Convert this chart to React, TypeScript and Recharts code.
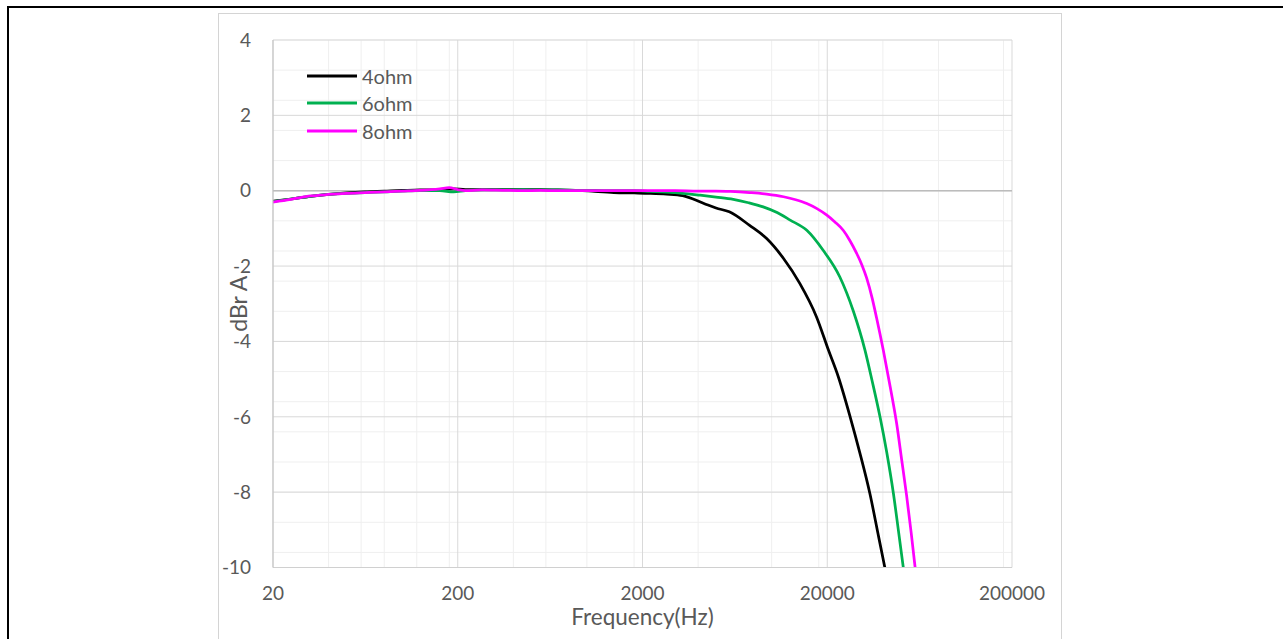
import {
  CartesianGrid,
  Label,
  Legend,
  Line,
  LineChart,
  ReferenceLine,
  XAxis,
  YAxis,
} from "recharts";

// 4 ohm load
const freq4ohm = [
  20, 25, 32, 40, 50, 63, 80, 100, 125, 160, 190, 220, 280, 350, 450, 560, 700, 900, 1100, 1400,
  1800, 2200, 2700, 3300, 4300, 5000, 5900, 7600, 9400, 11600, 14200, 17500, 20300, 23000, 26600,
  30000, 34000, 38000, 41000,
];
const db4ohm = [
  -0.28, -0.22, -0.15, -0.1, -0.06, -0.03, -0.01, 0.01, 0.02, 0.03, 0.05, 0.03, 0.03, 0.03, 0.03,
  0.03, 0.02, 0.01, -0.02, -0.05, -0.06, -0.07, -0.09, -0.13, -0.34, -0.46, -0.56, -0.92, -1.27,
  -1.8, -2.46, -3.35, -4.23, -4.95, -6.0, -6.95, -8.03, -9.2, -10.0,
];

// 6 ohm load
const freq6ohm = [
  20, 25, 32, 40, 50, 63, 80, 100, 125, 160, 190, 220, 280, 350, 450, 560, 700, 900, 1100, 1400,
  1800, 2200, 2700, 3300, 4100, 5000, 6200, 7500, 9000, 10700, 12600, 15500, 19000, 23400, 27700,
  32000, 35000, 38600, 42000, 45600, 48500, 51600,
];
const db6ohm = [
  -0.29, -0.22, -0.15, -0.1, -0.07, -0.05, -0.03, -0.01, 0, 0, -0.03, 0, 0.02, 0.02, 0.03, 0.02,
  0.02, 0.01, 0.01, 0, 0, -0.02, -0.04, -0.07, -0.12, -0.17, -0.23, -0.32, -0.43, -0.58, -0.78,
  -1.05, -1.58, -2.29, -3.2, -4.23, -5.05, -6.0, -6.95, -8.03, -9.0, -10.0,
];

// 8 ohm load
const freq8ohm = [
  20, 25, 32, 40, 50, 63, 80, 100, 125, 160, 180, 200, 220, 270, 350, 450, 560, 700, 900, 1100,
  1400, 1800, 2200, 3000, 4000, 5000, 6000, 7600, 9400, 11600, 13500, 15500, 17500, 19900, 22000,
  24400, 26500, 28900, 30800, 32700, 35000, 37000, 40200, 44000, 47500, 50500, 53800, 57000, 59800,
];
const db8ohm = [
  -0.3, -0.23, -0.14, -0.1, -0.07, -0.05, -0.03, -0.01, 0.01, 0.05, 0.08, 0.03, 0, 0.02, 0.01, 0,
  0.01, 0, 0, 0, 0, 0, 0, 0, -0.01, -0.01, -0.02, -0.05, -0.09, -0.16, -0.24, -0.34, -0.47, -0.65,
  -0.83, -1.05, -1.32, -1.67, -1.97, -2.32, -2.85, -3.38, -4.23, -5.25, -6.18, -7.12, -8.1, -9.1,
  -10.0,
];

const X_TICKS = [20, 200, 2000, 20000, 200000];
const Y_TICKS = [-10, -8, -6, -4, -2, 0, 2, 4];
const DECADES = [20, 200, 2000, 20000];
const MINOR_STEPS = [2, 3, 4, 5, 6, 7, 8, 9];
const X_MINOR = DECADES.flatMap((d) => MINOR_STEPS.map((k) => d * k));
const Y_MINOR = Array.from({ length: 36 }, (_, i) => Math.round((-10 + i * 0.4) * 10) / 10);

const toPoints = (freq: number[], db: number[]) => freq.map((f, i) => ({ freq: f, db: db[i] }));

const FONT = "Lato, 'Open Sans', sans-serif";
const TEXT = "#595959";

function renderLegend(props: any) {
  const { payload } = props;
  return (
    <div style={{ display: "flex", flexDirection: "column" }}>
      {(payload || []).map((p: any) => (
        <div key={p.value} style={{ display: "flex", alignItems: "center", height: 27.5 }}>
          <svg width={50} height={4} style={{ display: "block" }}>
            <line x1={0} y1={2} x2={50} y2={2} stroke={p.color} strokeWidth={3} />
          </svg>
          <span style={{ marginLeft: 5, fontSize: 20, color: TEXT, fontFamily: FONT, lineHeight: 1 }}>
            {p.value}
          </span>
        </div>
      ))}
    </div>
  );
}

export default function App() {
  return (
    <div style={{ position: "absolute", left: 0, top: 0, width: 1283, height: 639, overflow: "hidden", background: "#fff" }}>
      <div
        style={{
          position: "absolute",
          left: 7,
          top: 6,
          width: 1300,
          height: 700,
          borderTop: "2px solid #000",
          borderLeft: "2px solid #000",
        }}
      />
      <div
        style={{
          position: "absolute",
          left: 218,
          top: 13,
          width: 842,
          height: 660,
          border: "1px solid #d4d4d4",
          fontFamily: FONT,
        }}
      >
        <LineChart width={842} height={640} margin={{ top: 26, right: 49, bottom: 0, left: 0 }}>
          <CartesianGrid horizontalValues={Y_MINOR} verticalValues={X_MINOR} stroke="#efefef" />
          <CartesianGrid horizontalValues={Y_TICKS} verticalValues={X_TICKS} stroke="#d9d9d9" />
          <XAxis
            dataKey="freq"
            type="number"
            scale="log"
            domain={[20, 200000]}
            ticks={X_TICKS}
            allowDataOverflow
            height={86.5}
            tickSize={0}
            tickMargin={19}
            axisLine={{ stroke: "#d0d0d0" }}
            tickLine={false}
            tick={{ fill: TEXT, fontSize: 19, fontFamily: FONT }}
          >
            <Label
              content={(p: any) => {
                const vb = p.viewBox;
                return (
                  <text
                    x={vb.x + vb.width / 2}
                    y={vb.y + 57}
                    textAnchor="middle"
                    fill={TEXT}
                    fontSize={22.5}
                    fontFamily={FONT}
                  >
                    Frequency(Hz)
                  </text>
                );
              }}
            />
          </XAxis>
          <YAxis
            type="number"
            domain={[-10, 4]}
            ticks={Y_TICKS}
            allowDataOverflow
            width={54}
            tickSize={0}
            tickMargin={22}
            axisLine={{ stroke: "#bfbfbf" }}
            tickLine={false}
            tick={{ fill: TEXT, fontSize: 19, fontFamily: FONT }}
          >
            <Label
              content={(p: any) => {
                const vb = p.viewBox;
                const cx = vb.x + 18.5;
                const cy = vb.y + vb.height / 2;
                return (
                  <text
                    x={cx}
                    y={cy}
                    transform={`rotate(-90 ${cx} ${cy})`}
                    textAnchor="middle"
                    dominantBaseline="central"
                    fill={TEXT}
                    fontSize={23}
                    fontFamily={FONT}
                  >
                    dBr A
                  </text>
                );
              }}
            />
          </YAxis>
          <ReferenceLine y={0} stroke="#bcbcbc" strokeWidth={1.5} />
          <Legend
            layout="vertical"
            align="center"
            verticalAlign="middle"
            content={renderLegend}
            wrapperStyle={{ left: 88, top: 48, width: "auto", height: "auto" }}
          />
          <Line
            name="4ohm"
            data={toPoints(freq4ohm, db4ohm)}
            dataKey="db"
            type="monotone"
            stroke="#000000"
            strokeWidth={2.75}
            dot={false}
            isAnimationActive={false}
          />
          <Line
            name="6ohm"
            data={toPoints(freq6ohm, db6ohm)}
            dataKey="db"
            type="monotone"
            stroke="#00b050"
            strokeWidth={2.75}
            dot={false}
            isAnimationActive={false}
          />
          <Line
            name="8ohm"
            data={toPoints(freq8ohm, db8ohm)}
            dataKey="db"
            type="monotone"
            stroke="#ff00ff"
            strokeWidth={2.75}
            dot={false}
            isAnimationActive={false}
          />
        </LineChart>
      </div>
    </div>
  );
}
